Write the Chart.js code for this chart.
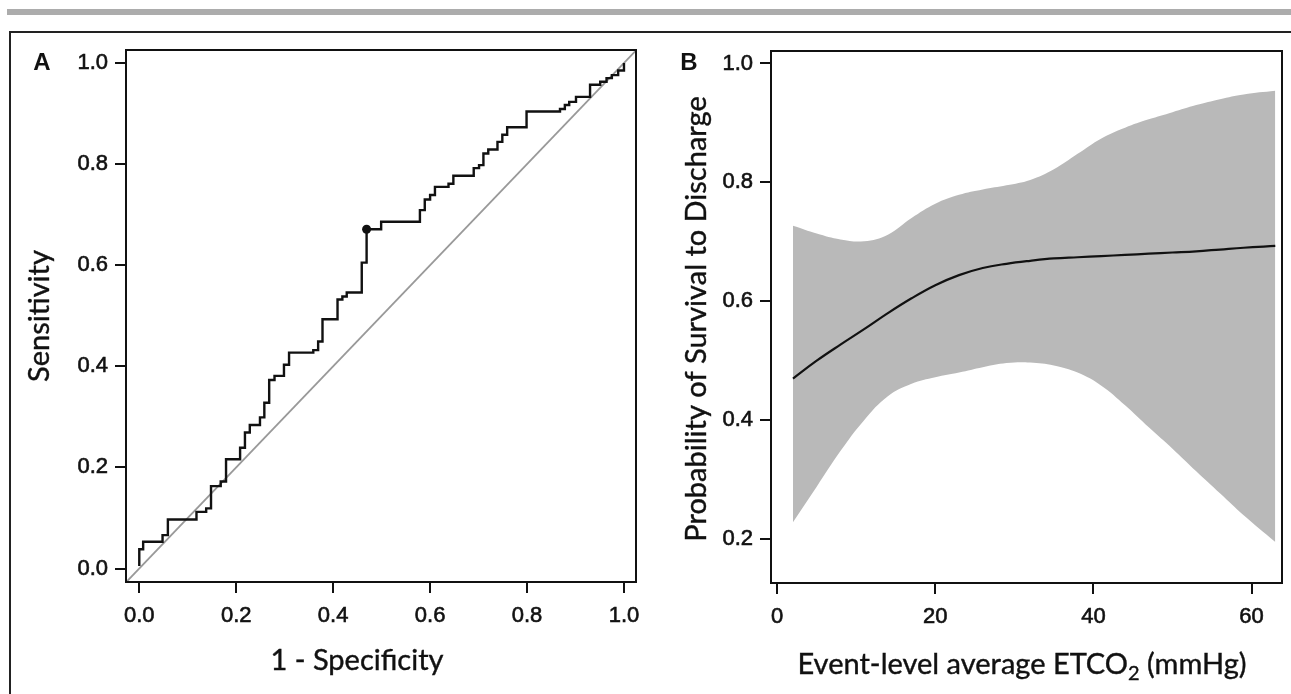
<!DOCTYPE html>
<html>
<head>
<meta charset="utf-8">
<script src="https://cdn.jsdelivr.net/npm/chart.js@4.4.1/dist/chart.umd.min.js"></script>
<style>
  html, body { margin: 0; padding: 0; background: #fff; }
  body { width: 1291px; height: 694px; position: relative; overflow: hidden; }
  #topBar { position: absolute; left: 7px; right: 0; top: 9px; height: 6px; background: #acacac; }
  #frame { position: absolute; left: 9px; top: 31px; right: -10px; bottom: -10px;
           border-top: 2px solid #222; border-left: 2px solid #222; }
  canvas { position: absolute; top: 0; }
</style>
</head>
<body>
<div id="topBar"></div>
<div id="frame"></div>
<canvas id="rocChart" width="660" height="694" style="left:0"></canvas>
<canvas id="etcoChart" width="651" height="694" style="left:640px"></canvas>
<script>
// panel A: ROC curve (step points = x where the jump happens, y after the jump)
const rocTicks = [0, 0.2, 0.4, 0.6, 0.8, 1.0];
const rocFpr = [0, 0, 0.008, 0.048, 0.059, 0.118, 0.138, 0.148, 0.168, 0.179, 0.208, 0.218,
  0.228, 0.249, 0.258, 0.268, 0.279, 0.2985, 0.309, 0.359, 0.369, 0.378, 0.409, 0.419, 0.428,
  0.459, 0.469, 0.499, 0.579, 0.589, 0.600, 0.610, 0.638, 0.648, 0.690, 0.701, 0.710, 0.720,
  0.739, 0.749, 0.759, 0.799, 0.868, 0.878, 0.887, 0.901, 0.930, 0.951, 0.964, 0.975, 0.988,
  1.0, 1.0];
const rocTpr = [0.005, 0.038, 0.053, 0.066, 0.097, 0.112, 0.119, 0.163, 0.172, 0.216, 0.239, 0.269,
  0.284, 0.299, 0.328, 0.373, 0.381, 0.403, 0.427, 0.432, 0.449, 0.493, 0.532, 0.538, 0.546,
  0.605, 0.671, 0.686, 0.709, 0.730, 0.739, 0.755, 0.761, 0.777, 0.792, 0.798, 0.821, 0.829,
  0.844, 0.858, 0.873, 0.904, 0.909, 0.917, 0.923, 0.933, 0.957, 0.963, 0.970, 0.976, 0.985,
  0.996, 1.0];
const cutFpr = [0.469];
const cutTpr = [0.671];
const chanceLine = [-0.05, 1.05];

// panel B: fitted probability with confidence band
const etcoTicks = [0, 20, 40, 60];
const probTicks = [0.2, 0.4, 0.6, 0.8, 1.0];
const etco = [2, 5, 8, 11, 14, 17, 20, 23, 26, 29, 32, 35, 38, 41, 44, 47, 50, 53, 56, 59, 63];
const probFit = [0.470, 0.500, 0.527, 0.553, 0.580, 0.605, 0.627, 0.644, 0.656, 0.663, 0.668,
  0.672, 0.674, 0.676, 0.678, 0.680, 0.682, 0.684, 0.687, 0.690, 0.693];
const probUpper = [0.727, 0.714, 0.704, 0.701, 0.712, 0.740, 0.764, 0.779, 0.788, 0.795, 0.804,
  0.822, 0.848, 0.874, 0.892, 0.906, 0.918, 0.930, 0.940, 0.948, 0.954];
const probLower = [0.228, 0.288, 0.348, 0.400, 0.440, 0.461, 0.472, 0.480, 0.489, 0.496, 0.497,
  0.492, 0.480, 0.458, 0.425, 0.388, 0.352, 0.314, 0.277, 0.240, 0.195];

const tickFont = { family: '"Liberation Sans", Arial, sans-serif', size: 22 };
const titleFont = '29px Lato, "Open Sans", sans-serif';
const subFont = '20px Lato, "Open Sans", sans-serif';
const ink = '#111';

const pairs = (xs, ys) => xs.map((x, i) => ({ x: x, y: ys[i] }));

// axis titles: text pieces, "sub" pieces are drawn smaller and lowered
function drawParts(ctx, parts, x, y, rot) {
  ctx.save();
  ctx.translate(x, y);
  ctx.rotate(rot);
  ctx.textBaseline = 'middle';
  ctx.textAlign = 'left';
  ctx.lineWidth = 0.4;
  ctx.strokeStyle = ink;
  let total = 0;
  const widths = parts.map(p => {
    ctx.font = p.sub ? subFont : titleFont;
    const w = ctx.measureText(p.text).width;
    total += w;
    return w;
  });
  let cx = -total / 2;
  parts.forEach((p, i) => {
    ctx.font = p.sub ? subFont : titleFont;
    const dy = p.sub ? 9 : 0;
    ctx.fillText(p.text, cx, dy);
    ctx.strokeText(p.text, cx, dy);
    cx += widths[i];
  });
  ctx.restore();
}

const panelDecor = {
  id: 'panelDecor',
  afterDraw(chart, args, opts) {
    const { ctx, chartArea: a } = chart;
    ctx.save();
    ctx.strokeStyle = ink;
    ctx.lineWidth = 2;
    ctx.strokeRect(a.left, a.top, a.right - a.left, a.bottom - a.top);
    ctx.fillStyle = ink;
    ctx.font = 'bold 24px "Liberation Sans", Arial, sans-serif';
    ctx.textAlign = 'center';
    ctx.textBaseline = 'middle';
    ctx.fillText(opts.letter, opts.letterX, opts.letterY);
    drawParts(ctx, opts.xTitle, opts.xTitleX, opts.xTitleY, 0);
    drawParts(ctx, opts.yTitle, opts.yTitleX, opts.yTitleY, -Math.PI / 2);
    ctx.restore();
  }
};

function axis(min, max, tickValues, fmt, pad, fit) {
  return {
    type: 'linear',
    min: min,
    max: max,
    afterBuildTicks: s => { s.ticks = tickValues.map(v => ({ value: v })); },
    afterFit: fit,
    grid: { drawOnChartArea: false, drawTicks: true, tickLength: 11, lineWidth: 2, color: ink, tickColor: ink },
    border: { display: false },
    ticks: { color: ink, font: tickFont, padding: pad, callback: fmt, maxRotation: 0, autoSkip: false,
             textStrokeWidth: 0.6, textStrokeColor: ink }
  };
}

const one = v => v.toFixed(1);

new Chart(document.getElementById('rocChart'), {
  type: 'scatter',
  data: {
    datasets: [
      { data: pairs(cutFpr, cutTpr), pointRadius: 4.5, pointBackgroundColor: ink, pointBorderWidth: 0, showLine: false },
      { data: pairs(rocFpr, rocTpr), showLine: true, stepped: true, borderColor: ink, borderWidth: 2.4, pointRadius: 0 },
      { data: pairs(chanceLine, chanceLine), showLine: true, borderColor: '#999', borderWidth: 1.8, pointRadius: 0 }
    ]
  },
  options: {
    responsive: false,
    animation: false,
    layout: { padding: { top: 50, right: 24, left: 0, bottom: 0 } },
    scales: {
      x: axis(-0.0274, 1.0248, rocTicks, one, 10, s => { s.height = 112; }),
      y: axis(-0.0267, 1.0257, rocTicks, one, 7, s => { s.width = 126; })
    },
    plugins: {
      legend: { display: false },
      tooltip: { enabled: false },
      panelDecor: {
        letter: 'A', letterX: 42, letterY: 63,
        xTitle: [{ text: '1 - Specificity' }], xTitleX: 357, xTitleY: 661,
        yTitle: [{ text: 'Sensitivity' }], yTitleX: 40, yTitleY: 316
      }
    }
  },
  plugins: [panelDecor]
});

new Chart(document.getElementById('etcoChart'), {
  type: 'scatter',
  data: {
    datasets: [
      { data: pairs(etco, probFit), showLine: true, borderColor: ink, borderWidth: 2.2, pointRadius: 0, tension: 0.4 },
      { data: pairs(etco, probUpper), showLine: true, borderWidth: 0, borderColor: 'rgba(0,0,0,0)', pointRadius: 0,
        tension: 0.4, fill: '+1', backgroundColor: '#b9b9b9' },
      { data: pairs(etco, probLower), showLine: true, borderWidth: 0, borderColor: 'rgba(0,0,0,0)', pointRadius: 0,
        tension: 0.4, fill: false }
    ]
  },
  options: {
    responsive: false,
    animation: false,
    layout: { padding: { top: 51, right: 9, left: 0, bottom: 0 } },
    scales: {
      x: axis(-0.78, 63.85, etcoTicks, v => String(v), 10, s => { s.height = 111; }),
      y: axis(0.126, 1.021, probTicks, one, 7, s => { s.width = 131; })
    },
    plugins: {
      legend: { display: false },
      tooltip: { enabled: false },
      filler: { propagate: false },
      panelDecor: {
        letter: 'B', letterX: 49, letterY: 63,
        xTitle: [{ text: 'Event-level average ETCO' }, { text: '2', sub: true }, { text: ' (mmHg)' }],
        xTitleX: 382, xTitleY: 665,
        yTitle: [{ text: 'Probability of Survival to Discharge' }], yTitleX: 57, yTitleY: 319
      }
    }
  },
  plugins: [panelDecor]
});
</script>
</body>
</html>
